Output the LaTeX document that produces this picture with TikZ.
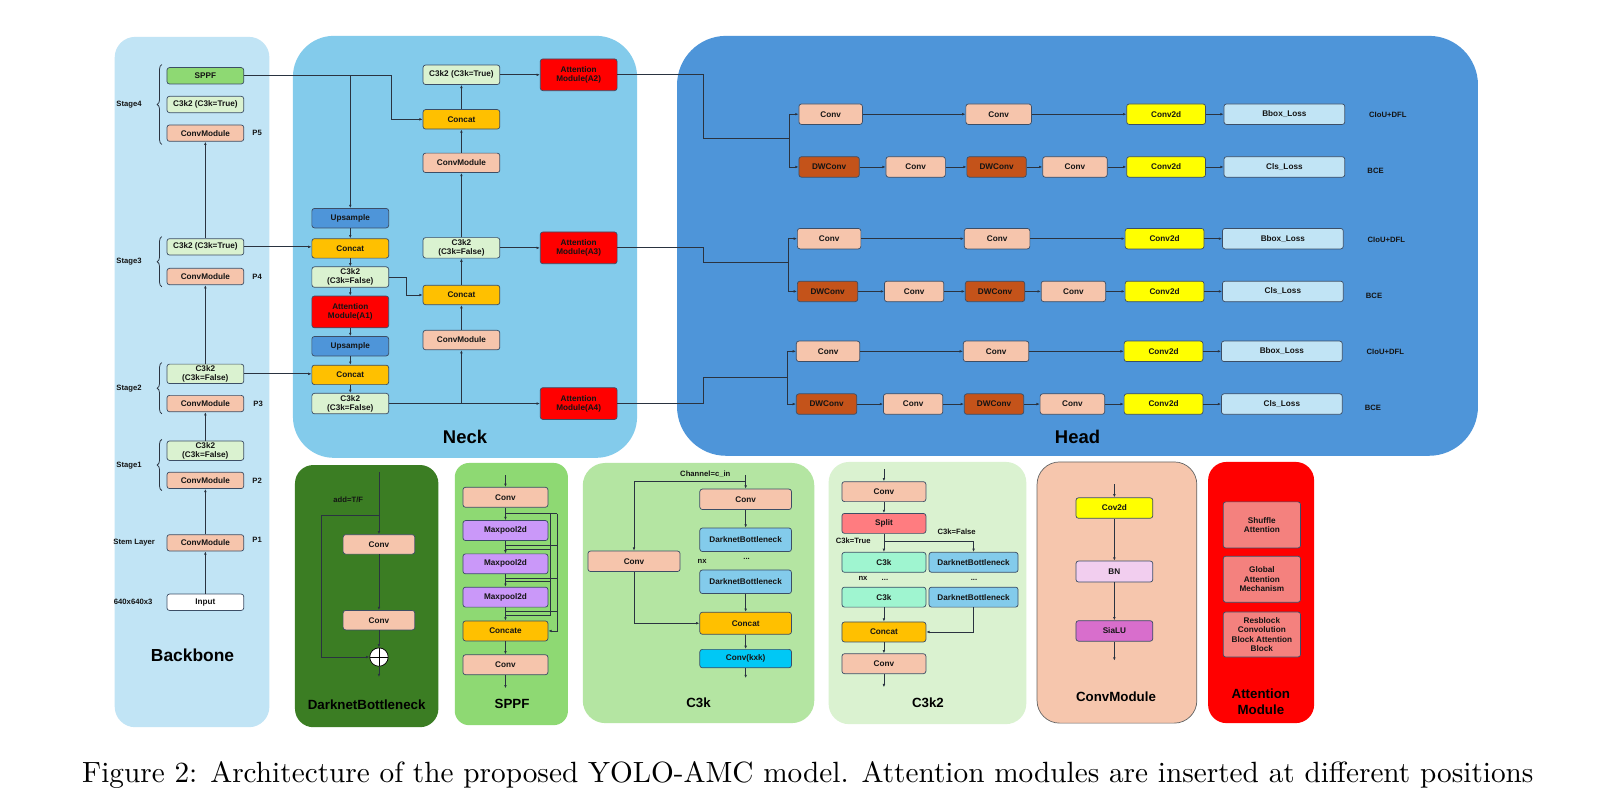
\documentclass[tikz,border=0pt]{standalone}
\usepackage{fontspec}
\usepackage{graphicx}
\newfontfamily\bfont{Liberation Sans}
\usetikzlibrary{arrows.meta,decorations.pathreplacing,calc}
\definecolor{bbpanel}{HTML}{C1E4F5}
\definecolor{neckpanel}{HTML}{83CBEB}
\definecolor{headpanel}{HTML}{4E95D9}
\definecolor{convc}{HTML}{F6C5AC}
\definecolor{c3k2c}{HTML}{DAF2D0}
\definecolor{sppfc}{HTML}{8ED973}
\definecolor{concatc}{HTML}{FFC000}
\definecolor{upc}{HTML}{4E95D9}
\definecolor{attnc}{HTML}{FF0000}
\definecolor{dwc}{HTML}{C4531A}
\definecolor{yelc}{HTML}{FFFF00}
\definecolor{lossc}{HTML}{C1E4F5}
\definecolor{dbpanel}{HTML}{3B7D23}
\definecolor{c3kpanel}{HTML}{B4E5A2}
\definecolor{c3k2panel}{HTML}{DAF2D0}
\definecolor{maxc}{HTML}{CA98F9}
\definecolor{dbboxc}{HTML}{83CBEB}
\definecolor{kxkc}{HTML}{00C8F5}
\definecolor{splitc}{HTML}{FF7C80}
\definecolor{mintc}{HTML}{9FF5D0}
\definecolor{bnc}{HTML}{F2CEEF}
\definecolor{siluc}{HTML}{D86ECC}
\definecolor{salmonc}{HTML}{F4817E}
\definecolor{cmpanel}{HTML}{F6C6AD}
\definecolor{bdcol}{HTML}{3C4E66}
\definecolor{lncol}{HTML}{2A3340}
\definecolor{txtcol}{HTML}{141414}
\tikzset{
  ln/.style={draw=lncol, line width=0.75pt},
  arr/.style={ln, -{Latex[length=3.2pt,width=2.6pt]}},
  bx/.style={draw=bdcol, line width=0.7pt, rounded corners=2.5pt, align=center, inner sep=0pt,
    font=\bfont\bfseries\fontsize{8}{9}\selectfont, text=txtcol},
  lbl/.style={inner sep=0pt, align=center, text=txtcol, font=\bfont\bfseries\fontsize{7.5}{9}\selectfont},
  bigttl/.style={inner sep=0pt, text=black, font=\bfont\bfseries\fontsize{18}{20}\selectfont},
  smttl/.style={inner sep=0pt, align=center, text=black, font=\bfont\bfseries\fontsize{13}{16}\selectfont},
  brc/.style={ln, decorate, decoration={brace, amplitude=4.5pt}},
}
\begin{document}
\begin{tikzpicture}[x=1pt,y=-1pt]
\useasboundingbox (0,0) rectangle (1568,772);
\fill[white] (0,0) rectangle (1568,772);
% ---------- panels ----------
\fill[bbpanel, rounded corners=20pt] (112,36) rectangle (263,710);
\fill[neckpanel, rounded corners=40pt] (286,35) rectangle (622,447);
\fill[headpanel, rounded corners=48pt] (661,35) rectangle (1443,445);
\fill[dbpanel, rounded corners=18pt] (288,454) rectangle (428,710);
\fill[sppfc, rounded corners=14pt] (444,452) rectangle (554.5,708);
\fill[c3kpanel, rounded corners=22pt] (569,452) rectangle (795,706);
\fill[c3k2panel, rounded corners=20pt] (809,451) rectangle (1002,707);
\filldraw[fill=cmpanel, draw=gray!80!black, line width=0.7pt, rounded corners=22pt] (1012.5,451) rectangle (1168.5,706);
\fill[attnc, rounded corners=18pt] (1179.5,451) rectangle (1283,706);

% ---------- Backbone ----------
\begin{scope}[every node/.append style={minimum width=75pt}]
\node[bx, fill=sppfc, minimum height=16pt] (b_sppf) at (200.5,74) {SPPF};
\node[bx, fill=c3k2c, minimum height=16pt] (b_s4c) at (200.5,102) {C3k2 (C3k=True)};
\node[bx, fill=convc, minimum height=16pt] (b_p5) at (200.5,130) {ConvModule};
\node[bx, fill=c3k2c, minimum height=16pt] (b_s3c) at (200.5,241) {C3k2 (C3k=True)};
\node[bx, fill=convc, minimum height=16pt] (b_p4) at (200.5,270) {ConvModule};
\node[bx, fill=c3k2c, minimum height=19pt] (b_s2c) at (200.5,365) {C3k2\\(C3k=False)};
\node[bx, fill=convc, minimum height=16pt] (b_p3) at (200.5,394) {ConvModule};
\node[bx, fill=c3k2c, minimum height=19pt] (b_s1c) at (200.5,440) {C3k2\\(C3k=False)};
\node[bx, fill=convc, minimum height=16pt] (b_p2) at (200.5,469) {ConvModule};
\node[bx, fill=convc, minimum height=16pt] (b_p1) at (200.5,530) {ConvModule};
\node[bx, fill=white, minimum height=16pt] (b_in) at (200.5,588) {Input};
\end{scope}
\node[lbl] (l_s4) at (126,102) {Stage4};
\node[lbl] (l_s3) at (126,255.5) {Stage3};
\node[lbl] (l_s2) at (126,379) {Stage2};
\node[lbl] (l_s1) at (126,455) {Stage1};
\node[lbl] (l_stem) at (131,530) {Stem Layer};
\node[lbl] (l_in) at (130,588) {640x640x3};
\node[lbl] (l_p5) at (251,130) {P5};
\node[lbl] (l_p4) at (251,270) {P4};
\node[lbl] (l_p3) at (252,394) {P3};
\node[lbl] (l_p2) at (251,469) {P2};
\node[lbl] (l_p1) at (251,527) {P1};
\draw[brc] (158,141) -- (158,63);
\draw[brc] (158,280) -- (158,231);
\draw[brc] (158,404) -- (158,354);
\draw[brc] (158,479) -- (158,429);
\draw[arr] (b_in) -- (b_p1);
\draw[arr] (b_p1) -- (b_p2);
\draw[arr] (b_s1c) -- (b_p3);
\draw[arr] (b_s2c) -- (b_p4);
\draw[arr] (b_s3c) -- (b_p5);
\node[bigttl, font=\bfont\bfseries\fontsize{17}{20}\selectfont] (t_bb) at (188,640) {Backbone};

% ---------- Neck ----------
\begin{scope}[every node/.append style={minimum width=75pt}]
\node[bx, fill=upc, minimum height=19pt] (up1) at (342,213) {Upsample};
\node[bx, fill=concatc, minimum height=19pt] (cat1) at (342,242.5) {Concat};
\node[bx, fill=c3k2c, minimum height=20pt] (c3l1) at (342,270.5) {C3k2\\(C3k=False)};
\node[bx, fill=attnc, minimum height=31pt] (a1) at (342,304.5) {Attention\\Module(A1)};
\node[bx, fill=upc, minimum height=19pt] (up2) at (342,338) {Upsample};
\node[bx, fill=concatc, minimum height=19pt] (cat2) at (342,366) {Concat};
\node[bx, fill=c3k2c, minimum height=20pt] (c3l2) at (342,394) {C3k2\\(C3k=False)};
\node[bx, fill=c3k2c, minimum height=19pt] (c3t) at (450.5,73) {C3k2 (C3k=True)};
\node[bx, fill=concatc, minimum height=19pt] (catm1) at (450.5,116.5) {Concat};
\node[bx, fill=convc, minimum height=19pt] (cmm1) at (450.5,159) {ConvModule};
\node[bx, fill=c3k2c, minimum height=20pt] (c3m) at (450.5,242) {C3k2\\(C3k=False)};
\node[bx, fill=concatc, minimum height=19pt] (catm2) at (450.5,288) {Concat};
\node[bx, fill=convc, minimum height=19pt] (cmm2) at (450.5,332) {ConvModule};
\node[bx, fill=attnc, minimum height=31pt] (a2) at (565,73) {Attention\\Module(A2)};
\node[bx, fill=attnc, minimum height=31pt] (a3) at (565,242) {Attention\\Module(A3)};
\node[bx, fill=attnc, minimum height=31pt] (a4) at (565,394) {Attention\\Module(A4)};
\end{scope}
\node[bigttl] (t_neck) at (454,427) {Neck};
\coordinate (nj1) at (382.5,116.5);
\coordinate (nj2) at (396.5,288);
\draw[arr] (b_sppf.east) -| (nj1) -- (catm1.west);
\draw[arr] (b_sppf.east -| up1.north) -- (up1.north);
\draw[arr] (up1) -- (cat1);
\draw[arr] (cat1) -- (c3l1);
\draw[arr] (c3l1) -- (a1);
\draw[arr] (a1) -- (up2);
\draw[arr] (up2) -- (cat2);
\draw[arr] (cat2) -- (c3l2);
\draw[arr] (b_s3c.east) -- (b_s3c.east -| cat1.west);
\draw[arr] (b_s2c.east) -- (b_s2c.east -| cat2.west);
\draw[arr] (c3l1.east) -| (nj2) -- (catm2.west);
\draw[arr] (c3l2.east) -- (c3l2.east -| a4.west);
\draw[arr] (c3l2.east -| cmm2.south) -- (cmm2.south);
\draw[arr] (cmm2) -- (catm2);
\draw[arr] (catm2) -- (c3m);
\draw[arr] (c3m) -- (cmm1);
\draw[arr] (cmm1) -- (catm1);
\draw[arr] (catm1) -- (c3t);
\draw[arr] (c3t) -- (a2);
\draw[arr] (c3m) -- (a3);

% ---------- Head ----------
\coordinate (hb1) at (687,135);   \coordinate (hj1) at (771,135);
\coordinate (hb2) at (687,256);   \coordinate (hj2) at (769.5,256);
\coordinate (hb3) at (687,368);   \coordinate (hj3) at (768.5,368);
\foreach \r/\ya/\yb/\dx in {1/111.5/163/0, 2/233/284.5/-1.5, 3/343/394.5/-2.5}{
  \node[bx, fill=convc, minimum width=62pt, minimum height=20pt] (h\r-ca) at (\dx+811,\ya) {Conv};
  \node[bx, fill=convc, minimum width=64pt, minimum height=20pt] (h\r-cb) at (\dx+975,\ya) {Conv};
  \node[bx, fill=yelc, minimum width=77pt, minimum height=20pt] (h\r-k1) at (\dx+1138.5,\ya) {Conv2d};
  \node[bx, fill=lossc, minimum width=118pt, minimum height=20pt] (h\r-l1) at (\dx+1254,\ya) {Bbox\_Loss};
  \node[bx, fill=dwc, minimum width=59pt, minimum height=20pt] (h\r-d1) at (\dx+809.5,\yb) {DWConv};
  \node[bx, fill=convc, minimum width=58pt, minimum height=20pt] (h\r-cc) at (\dx+894,\yb) {Conv};
  \node[bx, fill=dwc, minimum width=58pt, minimum height=20pt] (h\r-d2) at (\dx+973,\yb) {DWConv};
  \node[bx, fill=convc, minimum width=63pt, minimum height=20pt] (h\r-cd) at (\dx+1049.5,\yb) {Conv};
  \node[bx, fill=yelc, minimum width=77pt, minimum height=20pt] (h\r-k2) at (\dx+1138.5,\yb) {Conv2d};
  \node[bx, fill=lossc, minimum width=118pt, minimum height=20pt] (h\r-l2) at (\dx+1254,\yb) {Cls\_Loss};
  \node[lbl] (h\r-t1) at (\dx+1355,\ya+1) {CIoU+DFL};
  \node[lbl] (h\r-t2) at (\dx+1343,\yb+4) {BCE};
  \draw[arr] (h\r-ca) -- (h\r-cb);
  \draw[arr] (h\r-cb) -- (h\r-k1);
  \draw[arr] (h\r-k1) -- (h\r-l1);
  \draw[arr] (h\r-d1) -- (h\r-cc);
  \draw[arr] (h\r-cc) -- (h\r-d2);
  \draw[arr] (h\r-d2) -- (h\r-cd);
  \draw[arr] (h\r-cd) -- (h\r-k2);
  \draw[arr] (h\r-k2) -- (h\r-l2);
  \draw[arr] (hj\r) |- (h\r-ca.west);
  \draw[arr] (hj\r) |- (h\r-d1.west);
}
\draw[ln] (a2.east) -| (hb1) -- (hj1);
\draw[ln] (a3.east) -| (hb2) -- (hj2);
\draw[ln] (a4.east) -| (hb3) -- (hj3);
\node[bigttl] (t_head) at (1052,427) {Head};

% ---------- DarknetBottleneck ----------
\node[bx, fill=convc, minimum width=70pt, minimum height=19pt] (db-c1) at (370,531.5) {Conv};
\node[bx, fill=convc, minimum width=70pt, minimum height=19pt] (db-c2) at (370,605.5) {Conv};
\node[circle, draw=black, fill=white, line width=0.7pt, minimum size=18pt, inner sep=0pt,
  path picture={\draw[black, line width=0.7pt] (path picture bounding box.north) -- (path picture bounding box.south)
  (path picture bounding box.west) -- (path picture bounding box.east);}] (db-add) at (370,641.5) {};
\coordinate (db-in) at (370,461);
\coordinate (db-out) at (370,661);
\coordinate (db-s1) at (370,503);
\coordinate (db-s2) at (313.5,641.5);
\draw[arr] (db-in) -- (db-c1);
\draw[arr] (db-c1) -- (db-c2);
\draw[arr] (db-c2) -- (db-add);
\draw[arr] (db-add) -- (db-out);
\draw[arr] (db-s1) -| (db-s2) -- (db-add.west);
\node[lbl] (db-lab) at (340,488) {add=T/F};
\node[smttl] (t_db) at (358,688) {DarknetBottleneck};

% ---------- SPPF ----------
\begin{scope}[every node/.append style={minimum width=83pt}]
\node[bx, fill=convc, minimum height=19.5pt] (sp-c1) at (493.5,485.5) {Conv};
\node[bx, fill=maxc, minimum height=19.5pt] (sp-m1) at (493.5,518) {Maxpool2d};
\node[bx, fill=maxc, minimum height=19.5pt] (sp-m2) at (493.5,550.5) {Maxpool2d};
\node[bx, fill=maxc, minimum height=19.5pt] (sp-m3) at (493.5,583) {Maxpool2d};
\node[bx, fill=concatc, minimum height=19.5pt] (sp-cat) at (493.5,616) {Concate};
\node[bx, fill=convc, minimum height=19.5pt] (sp-c2) at (493.5,649) {Conv};
\end{scope}
\coordinate (sp-in) at (493.5,464);
\coordinate (sp-out) at (493.5,672);
\draw[arr] (sp-in) -- (sp-c1);
\draw[arr] (sp-c1) -- (sp-m1);
\draw[arr] (sp-m1) -- (sp-m2);
\draw[arr] (sp-m2) -- (sp-m3);
\draw[arr] (sp-m3) -- (sp-cat);
\draw[arr] (sp-cat) -- (sp-c2);
\draw[arr] (sp-c2) -- (sp-out);
\coordinate (sp-t1) at (493.5,501.5); \coordinate (sp-o1) at (544,501.5); \coordinate (sp-i1) at (537,501.5);
\coordinate (sp-t2) at (493.5,532.5); \coordinate (sp-o2) at (544,532.5);
\coordinate (sp-t3) at (493.5,564.5); \coordinate (sp-o3) at (544,564.5);
\coordinate (sp-t4) at (493.5,597);   \coordinate (sp-o4) at (544,597);
\coordinate (sp-u2) at (493.5,536);   \coordinate (sp-i2) at (537,536);
\coordinate (sp-u3) at (493.5,568);   \coordinate (sp-i3) at (537,568);
\coordinate (sp-u4) at (493.5,600.5); \coordinate (sp-i4) at (537,600.5);
\draw[ln] (sp-t1) -- (sp-o1);
\draw[ln] (sp-t2) -- (sp-o2);
\draw[ln] (sp-t3) -- (sp-o3);
\draw[ln] (sp-t4) -- (sp-o4);
\draw[ln] (sp-i1) -- (sp-i4) -- (sp-u4);
\draw[ln] (sp-u2) -- (sp-i2);
\draw[ln] (sp-u3) -- (sp-i3);
\draw[arr] (sp-o1) |- (sp-cat.east);
\node[smttl] (t_sppf) at (500,687) {SPPF};

% ---------- C3k ----------
\node[bx, fill=convc, minimum width=89.5pt, minimum height=20pt] (c3-conv) at (728,487.5) {Conv};
\node[bx, fill=dbboxc, minimum width=89.5pt, minimum height=23pt] (c3-db1) at (728,527) {DarknetBottleneck};
\node[bx, fill=dbboxc, minimum width=89.5pt, minimum height=23pt] (c3-db2) at (728,568) {DarknetBottleneck};
\node[bx, fill=concatc, minimum width=89.5pt, minimum height=21.5pt] (c3-cat) at (728,608.5) {Concat};
\node[bx, fill=kxkc, minimum width=89.5pt, minimum height=18pt] (c3-kxk) at (728,643) {Conv(kxk)};
\node[bx, fill=convc, minimum width=90pt, minimum height=20pt] (c3-l) at (619,548) {Conv};
\coordinate (c3-in) at (728,463.7);
\coordinate (c3-j) at (728,470.3);
\coordinate (c3-out) at (728,662);
\draw[arr] (c3-in) -- (c3-conv);
\draw[arr] (c3-j) -| (c3-l.north);
\draw[arr] (c3-conv) -- (c3-db1);
\draw[arr] (c3-db2) -- (c3-cat);
\draw[arr] (c3-l.south) |- (c3-cat.west);
\draw[arr] (c3-cat) -- (c3-kxk);
\draw[arr] (c3-kxk) -- (c3-out);
\node[lbl] (c3-ch) at (688.6,462.5) {Channel=c\_in};
\node[lbl] (c3-nx) at (685.5,548) {nx};
\node[lbl] (c3-dots) at (729,546) {...};
\node[smttl] (t_c3k) at (682,686) {C3k};

% ---------- C3k2 ----------
\begin{scope}[every node/.append style={minimum width=82pt}]
\node[bx, fill=convc, minimum height=19.5pt] (k2-conv) at (863,480) {Conv};
\node[bx, fill=splitc, minimum height=19.5pt] (k2-split) at (863,511) {Split};
\node[bx, fill=mintc, minimum height=19.5pt] (k2-c1) at (863,549) {C3k};
\node[bx, fill=mintc, minimum height=19.5pt] (k2-c2) at (863,583) {C3k};
\node[bx, fill=concatc, minimum height=19.5pt] (k2-cat) at (863,617) {Concat};
\node[bx, fill=convc, minimum height=19.5pt] (k2-conv2) at (863,648) {Conv};
\end{scope}
\node[bx, fill=dbboxc, minimum width=87pt, minimum height=19.5pt] (k2-db1) at (950.5,549) {DarknetBottleneck};
\node[bx, fill=dbboxc, minimum width=87pt, minimum height=19.5pt] (k2-db2) at (950.5,583) {DarknetBottleneck};
\coordinate (k2-in) at (863,458);
\coordinate (k2-out) at (863,671);
\coordinate (k2-j) at (863,528.5);
\draw[arr] (k2-in) -- (k2-conv);
\draw[arr] (k2-conv) -- (k2-split);
\draw[arr] (k2-split) -- (k2-c1);
\draw[arr] (k2-j) -| (k2-db1.north);
\draw[arr] (k2-c2) -- (k2-cat);
\draw[arr] (k2-db2.south) |- (k2-cat.east);
\draw[arr] (k2-cat) -- (k2-conv2);
\draw[arr] (k2-conv2) -- (k2-out);
\node[lbl] (k2-lt) at (833,528) {C3k=True};
\node[lbl] (k2-lf) at (934,519.5) {C3k=False};
\node[lbl] (k2-nx) at (842.6,564.5) {nx};
\node[lbl] (k2-d1) at (864,566) {...};
\node[lbl] (k2-d2) at (951,566) {...};
\node[smttl] (t_c3k2) at (906,686.5) {C3k2};

% ---------- ConvModule ----------
\node[bx, fill=yelc, minimum width=75pt, minimum height=20pt] (cm-cov) at (1088,496) {Cov2d};
\node[bx, fill=bnc, minimum width=75pt, minimum height=20.5pt] (cm-bn) at (1088,558) {BN};
\node[bx, fill=siluc, minimum width=75pt, minimum height=20pt] (cm-si) at (1088,616) {SiaLU};
\coordinate (cm-in) at (1088,472.6);
\coordinate (cm-out) at (1088,645);
\draw[arr] (cm-in) -- (cm-cov);
\draw[arr] (cm-cov) -- (cm-bn);
\draw[arr] (cm-bn) -- (cm-si);
\draw[arr] (cm-si) -- (cm-out);
\node[smttl] (t_cm) at (1089.6,680) {ConvModule};

% ---------- Attention Module ----------
\begin{scope}[every node/.append style={minimum width=75.5pt, rounded corners=5pt, fill=salmonc, draw=gray!60!black, font=\bfont\bfseries\fontsize{8}{10.6}\selectfont}]
\node[bx] (at-1) at (1232,512.5) [minimum height=45pt] {Shuffle\\Attention};
\node[bx] (at-2) at (1232,565.5) [minimum height=45pt] {Global\\Attention\\Mechanism};
\node[bx] (at-3) at (1232,619.5) [minimum height=44pt] {Resblock\\Convolution\\Block Attention\\Block};
\end{scope}
\node[smttl] (t_at) at (1231,685) {Attention\\Module};

% ---------- caption ----------
\node[anchor=west, inner sep=0pt] (cap) at (80,757) {\resizebox{1417pt}{!}{Figure 2: Architecture of the proposed YOLO-AMC model. Attention modules are inserted at different positions}};
\end{tikzpicture}
\end{document}
